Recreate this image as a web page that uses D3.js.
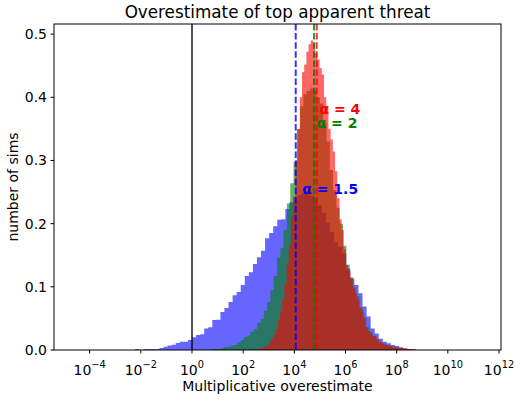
<!DOCTYPE html>
<html><head><meta charset="utf-8">
<script src="https://cdn.jsdelivr.net/npm/d3@7"></script>
<style>
body{margin:0;background:#fff}
svg{display:block}
text{font-family:"DejaVu Sans",sans-serif;fill:#000}
</style>
</head><body>
<svg id="chart" width="520" height="401"></svg>
<script>
// ---------------- data ----------------
const xTickExponents = [-4, -2, 0, 2, 4, 6, 8, 10, 12];
const yTicks = [0, 0.1, 0.2, 0.3, 0.4, 0.5];

// histogram bins: log10 of first left edge, bin width in decades, bar heights
const blueFirstEdge = -2.222, blueBinWidth = 0.1587;
const blueHeights = [0.0016,0,0.0016,0.0016,0.0016,0.0016,0.003,0.005,0.007,0.0085,0.011,0.013,0.013,0.016,
  0.020,0.0237,0.025,0.034,0.036,0.0475,0.048,0.060,0.0665,0.076,0.0865,0.092,0.103,0.117,0.123,0.136,
  0.147,0.157,0.177,0.185,0.196,0.206,0.207,0.223,0.234,0.240,0.245,0.248,0.248,0.244,0.240,0.229,0.217,
  0.201,0.187,0.171,0.163,0.153,0.129,0.113,0.103,0.090,0.069,0.053,0.034,0.026,0.018,0.013,0.0105,0.008,
  0.0063,0.0042,0.0026,0.0016,0.001];

const greenFirstEdge = 0.743, greenBinWidth = 0.129;
const greenHeights = [0.0016,0.0016,0.0016,0.003,0.005,0.005,0.007,0.008,0.012,0.016,0.020,0.023,0.029,0.033,
  0.043,0.049,0.062,0.076,0.095,0.117,0.146,0.161,0.190,0.232,0.264,0.298,0.35,0.386,0.405,0.41,0.414,0.411,
  0.40,0.39,0.36,0.33,0.285,0.253,0.225,0.200,0.165,0.135,0.115,0.098,0.085,0.066,0.052,0.036,0.028,0.022,
  0.017,0.012,0.010,0.008,0.006,0.005,0.004,0.003,0.002,0.0016,0.001];

const redFirstEdge = 2.580, redBinWidth = 0.086;
const redHeights = [0.0016,0.003,0.003,0.006,0.008,0.013,0.018,0.024,0.032,0.0475,0.061,0.079,0.105,0.137,
  0.166,0.211,0.243,0.30,0.35,0.40,0.44,0.452,0.472,0.484,0.490,0.486,0.470,0.460,0.446,0.436,0.400,0.385,
  0.350,0.333,0.314,0.283,0.240,0.207,0.190,0.160,0.135,0.125,0.113,0.100,0.090,0.079,0.068,0.060,0.050,
  0.036,0.030,0.026,0.022,0.020,0.016,0.013,0.011,0.009,0.008,0.007,0.006,0.005,0.004,0.004,0.003,0.003,
  0.002,0.002,0.0016,0.0016,0.001,0.001];

// medians (log10) and labels
const medianExponents = [4.054, 4.77, 4.875];
const seriesColors = ["#0000ff", "#008000", "#ff0000"];
const labelTexts = ["α = 1.5", "α = 2", "α = 4"];
const labelExponents = [4.31, 4.87, 4.98];
const labelValues = [0.247, 0.351, 0.374];
const referenceLine = 1;

// ---------------- layout ----------------
const svg = d3.select("#chart");
const L = 54, R = 501, T = 24, B = 350;
const x = d3.scaleLog().domain([Math.pow(10, -5.394), Math.pow(10, 12.078)]).range([L, R]);
const y = d3.scaleLinear().domain([0, 0.516]).range([B, T]);

function bins(first, width, heights) {
  const pts = heights.map((h, i) => ({e: first + i * width, v: h}));
  pts.push({e: first + heights.length * width, v: 0});
  return pts;
}
const area = d3.area()
  .curve(d3.curveStepAfter)
  .x(d => x(Math.pow(10, d.e)))
  .y0(y(0))
  .y1(d => y(d.v));

const g = svg.append("g");
[[blueFirstEdge, blueBinWidth, blueHeights],
 [greenFirstEdge, greenBinWidth, greenHeights],
 [redFirstEdge, redBinWidth, redHeights]].forEach((s, i) => {
  g.append("path")
    .attr("d", area(bins(s[0], s[1], s[2])))
    .attr("fill", seriesColors[i])
    .attr("fill-opacity", 0.6);
});

// reference line at 1
svg.append("line")
  .attr("x1", x(referenceLine)).attr("x2", x(referenceLine))
  .attr("y1", T).attr("y2", B)
  .attr("stroke", "#000").attr("stroke-opacity", 0.75).attr("stroke-width", 1.8);

// median dashed lines
medianExponents.forEach((m, i) => {
  svg.append("line")
    .attr("x1", x(Math.pow(10, m))).attr("x2", x(Math.pow(10, m)))
    .attr("y1", T).attr("y2", B)
    .attr("stroke", seriesColors[i]).attr("stroke-opacity", 0.8)
    .attr("stroke-width", 2)
    .attr("stroke-dasharray", "6.5,2.6");
});

// labels
labelTexts.forEach((t, i) => {
  svg.append("text")
    .attr("x", x(Math.pow(10, labelExponents[i])))
    .attr("y", y(labelValues[i]))
    .attr("font-size", 14).attr("font-weight", "bold")
    .style("fill", seriesColors[i])
    .text(t);
});

// axes frame
svg.append("rect").attr("x", L).attr("y", T).attr("width", R - L).attr("height", B - T)
  .attr("fill", "none").attr("stroke", "#000").attr("stroke-width", 1);

// x ticks
const xt = svg.append("g");
xTickExponents.forEach(e => {
  const px = x(Math.pow(10, e));
  xt.append("line").attr("x1", px).attr("x2", px).attr("y1", B).attr("y2", B + 3.5)
    .attr("stroke", "#000").attr("stroke-width", 1);
  const t = xt.append("text").attr("x", px).attr("y", B + 25).attr("text-anchor", "middle")
    .attr("font-size", 14);
  t.append("tspan").text("10");
  t.append("tspan").attr("dy", -7).attr("font-size", 9.8).text(e < 0 ? "\u2212" + Math.abs(e) : String(e));
});

// y ticks
const yt = svg.append("g");
yTicks.forEach(v => {
  const py = y(v);
  yt.append("line").attr("x1", L - 3.5).attr("x2", L).attr("y1", py).attr("y2", py)
    .attr("stroke", "#000").attr("stroke-width", 1);
  yt.append("text").attr("x", L - 7).attr("y", py + 5).attr("text-anchor", "end")
    .attr("font-size", 14).text(v.toFixed(1));
});

// titles
svg.append("text").attr("x", (L + R) / 2).attr("y", 18).attr("text-anchor", "middle")
  .attr("font-size", 16.8).text("Overestimate of top apparent threat");
svg.append("text").attr("x", (L + R) / 2).attr("y", 391).attr("text-anchor", "middle")
  .attr("font-size", 14).text("Multiplicative overestimate");
svg.append("text").attr("transform", `translate(18,${(T + B) / 2}) rotate(-90)`)
  .attr("text-anchor", "middle").attr("font-size", 14).text("number of sims");
</script>
</body></html>
